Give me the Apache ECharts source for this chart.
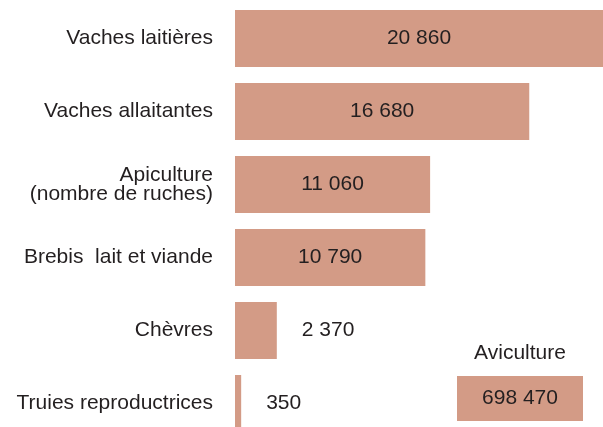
<!DOCTYPE html>
<html>
<head>
<meta charset="utf-8">
<script src="https://cdn.jsdelivr.net/npm/echarts@6/dist/echarts.min.js"></script>
<style>
html,body{margin:0;padding:0;background:#fff;}
#c{width:603px;height:427px;}
</style>
</head>
<body>
<div id="c"></div>
<script>
const categories = ['Vaches laitières', 'Vaches allaitantes', 'Apiculture\n(nombre de ruches)', 'Brebis  lait et viande', 'Chèvres', 'Truies reproductrices'];
const values = [20860, 16680, 11060, 10790, 2370, 350];
const insetCategories = ['Aviculture'];
const insetValues = [698470];

const FONT = 'Liberation Sans, Arial, sans-serif';
const TXT = '#231f20';
const BAR = '#d39b86';
const fmt = v => String(v).replace(/\B(?=(\d{3})+(?!\d))/g, ' ');

const chart = echarts.init(document.getElementById('c'), null, {renderer: 'canvas'});
chart.setOption({
  animation: false,
  textStyle: {fontFamily: FONT},
  grid: [
    {left: 235, right: 0, top: 2, height: 438, containLabel: false, outerBoundsMode: 'none'},
    {left: 457, width: 126, top: 376, height: 45, containLabel: false, outerBoundsMode: 'none'}
  ],
  xAxis: [
    {gridIndex: 0, type: 'value', min: 0, max: 'dataMax', show: false},
    {gridIndex: 1, type: 'value', min: 0, max: 'dataMax', position: 'top',
     axisLine: {show: false}, axisTick: {show: false}, axisLabel: {show: false}, splitLine: {show: false},
     name: insetCategories[0], nameLocation: 'middle', nameGap: 12,
     nameTextStyle: {fontSize: 21, color: TXT, fontFamily: FONT}}
  ],
  yAxis: [
    {gridIndex: 0, type: 'category', data: categories, inverse: true,
     axisLine: {show: false}, axisTick: {show: false}, splitLine: {show: false},
     axisLabel: {margin: 22, fontSize: 21, color: TXT, fontFamily: FONT, lineHeight: 19, align: 'right', padding: [5, 0, 0, 0]}},
    {gridIndex: 1, type: 'category', data: insetCategories, show: false}
  ],
  series: [
    {type: 'bar', xAxisIndex: 0, yAxisIndex: 0, barWidth: 57,
     itemStyle: {color: BAR},
     data: values.map(v => ({value: v, label: v < 5000 ? {position: 'right', distance: 25} : {position: 'inside'}})),
     label: {show: true, fontSize: 21, color: TXT, fontFamily: FONT, formatter: p => fmt(p.value)}},
    {type: 'bar', xAxisIndex: 1, yAxisIndex: 1, barWidth: 45,
     itemStyle: {color: BAR},
     data: insetValues,
     label: {show: true, position: 'inside', fontSize: 21, color: TXT, fontFamily: FONT, formatter: p => fmt(p.value)}}
  ]
});
</script>
</body>
</html>
